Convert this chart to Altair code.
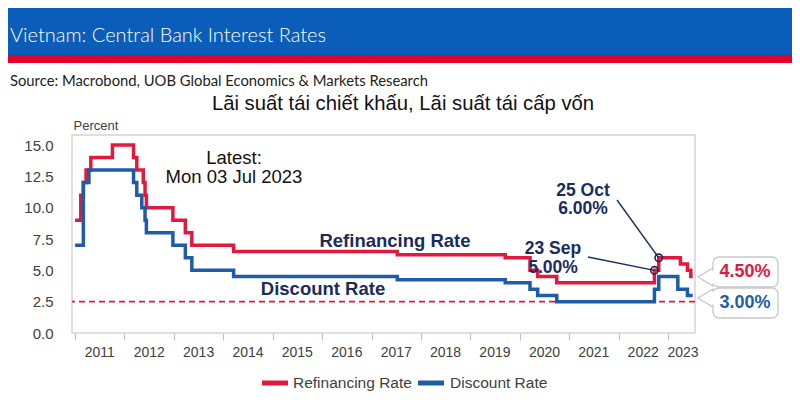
import altair as alt
import pandas as pd

# ---------------- data ----------------
refi_dates = ["2011-01-01", "2011-02-12", "2011-03-03", "2011-03-23", "2011-04-27",
              "2011-10-04", "2012-03-08", "2012-04-01", "2012-05-19", "2012-06-01",
              "2012-06-11", "2012-12-24", "2013-03-26", "2013-05-13", "2014-03-18",
              "2017-07-10", "2019-09-16", "2020-03-17", "2020-05-13", "2020-10-01",
              "2022-09-23", "2022-10-25", "2023-04-03", "2023-05-25", "2023-06-19",
              "2023-07-03"]
refi_values = [9.0, 11.0, 12.0, 13.0, 14.0,
               15.0, 14.0, 13.0, 12.0, 11.0,
               10.0, 9.0, 8.0, 7.0, 6.5,
               6.25, 6.0, 5.0, 4.5, 4.0,
               5.0, 6.0, 5.5, 5.0, 4.5,
               4.5]

disc_dates = ["2011-01-01", "2011-03-03", "2011-04-13", "2012-03-08", "2012-04-01",
              "2012-05-08", "2012-06-01", "2012-06-11", "2012-12-24", "2013-03-26",
              "2013-05-13", "2014-03-18", "2017-07-10", "2019-09-16", "2020-03-17",
              "2020-05-13", "2020-10-01", "2022-09-23", "2022-10-25", "2023-03-15",
              "2023-05-25", "2023-07-03"]
disc_values = [7.0, 12.0, 13.0, 12.0, 11.0,
               10.0, 9.0, 8.0, 7.0, 6.0,
               5.0, 4.5, 4.25, 4.0, 3.5,
               3.0, 2.5, 3.5, 4.5, 3.5,
               3.0, 3.0]

series_names = ["Refinancing Rate", "Discount Rate"]
years = list(range(2011, 2024))
year_label_dates = [f"{y}-07-02" for y in range(2011, 2023)] + ["2023-04-22"]
y_ticks = [0, 2.5, 5.0, 7.5, 10.0, 12.5, 15.0]
floor_rate = [2.5]
highlight_dates = ["2022-10-25", "2022-09-23"]
highlight_values = [6.0, 5.0]
highlight_labels = ["25 Oct", "23 Sep"]

# ---------------- styling ----------------
RED = "#e2193c"
BLUE = "#1f5ca8"
NAVY = "#1a2b5f"
HEAD_BLUE = "#0a5db8"
HEAD_RED = "#e4002b"
GRAY = "#404040"
FONT = "Liberation Sans"

W, H = 623, 198
PAD = {"left": 64, "top": 127, "right": 97, "bottom": 63}

lines_df = pd.concat([
    pd.DataFrame({"date": refi_dates, "rate": refi_values, "series": series_names[0]}),
    pd.DataFrame({"date": disc_dates, "rate": disc_values, "series": series_names[1]}),
], ignore_index=True)

x_scale = alt.Scale(type="utc", domain=[alt.DateTime(year=2010, month=12, date=9, utc=True),
                                         alt.DateTime(year=2023, month=7, date=20, utc=True)])
y_scale = alt.Scale(domain=[0, 15.8], nice=False, zero=True)

x_axis = alt.Axis(values=[alt.DateTime(year=y, month=1, date=1, utc=True) for y in years],
                  labels=False, ticks=True, tickSize=7, tickColor="#c4c4c4",
                  tickWidth=1.2, domain=False, grid=False, title=None)
y_axis = alt.Axis(values=y_ticks, format=".1f", title="Percent", titleAngle=0,
                  titleAlign="left", titleBaseline="alphabetic", titleX=1, titleY=-6,
                  titleFontSize=13, titleFontWeight="normal", titleColor=GRAY,
                  titleFont=FONT, labelFont=FONT, labelFontSize=15, labelColor=GRAY,
                  labelOverlap=False, ticks=False, labelPadding=19, domain=False,
                  grid=False)


def X():
    return alt.X("date:T", scale=x_scale, axis=x_axis)


def Y():
    return alt.Y("rate:Q", scale=y_scale, axis=y_axis)


one = pd.DataFrame({"a": [0]})


def txt(x, y, s, size=14, color="#111111", weight="normal", font=FONT, align="center"):
    return alt.Chart(one).mark_text(fontSize=size, color=color, fontWeight=weight, font=font,
                                    align=align, baseline="middle").encode(
        x=alt.value(x), y=alt.value(y), text=alt.value(s))


def box(y1, y2):
    return alt.Chart(one).mark_rect(fill="white", stroke="#c9c9c9", strokeWidth=1.3,
                                    cornerRadius=6).encode(
        x=alt.value(641), x2=alt.value(706), y=alt.value(y1), y2=alt.value(y2))


def pointer(yc, cover=False):
    if cover:
        return alt.Chart(one).mark_point(shape="M -0.8 0 L 1.35 -1.05 L 1.35 1.05 Z", filled=True,
                                         fill="white", opacity=1, strokeWidth=0, size=225).encode(
            x=alt.value(633.5), y=alt.value(yc))
    return alt.Chart(one).mark_point(shape="M -1 0 L 1 -1.2 L 1 1.2 Z", filled=True,
                                     fill="white", stroke="#c9c9c9", strokeWidth=1.3, opacity=1,
                                     size=225).encode(x=alt.value(633.5), y=alt.value(yc))


def swatch(x1, x2, y, color):
    return alt.Chart(one).mark_rule(color=color, strokeWidth=5).encode(
        x=alt.value(x1), x2=alt.value(x2), y=alt.value(y))


# header
head_blue = alt.Chart(one).mark_rect(color=HEAD_BLUE).encode(
    x=alt.value(-64), x2=alt.value(W + PAD["right"]), y=alt.value(-127), y2=alt.value(-80))
head_red = alt.Chart(one).mark_rect(color=HEAD_RED).encode(
    x=alt.value(-64), x2=alt.value(W + PAD["right"]), y=alt.value(-80), y2=alt.value(-72))
title_t = txt(-62, -99, "Vietnam: Central Bank Interest Rates", size=20, color="white",
              font="Lato", weight=300, align="left")
source_t = txt(-62, -53, "Source: Macrobond, UOB Global Economics & Markets Research", size=14.8,
               color="#222222", font="Lato", align="left")
sub_t = txt(331, -31, "Lãi suất tái chiết khấu, Lãi suất tái cấp vốn", size=20.3, color="#111111")

# floor dashed line
floor = alt.Chart(pd.DataFrame({"rate": floor_rate})).mark_rule(
    color=RED, strokeDash=[6, 4], strokeWidth=1.8).encode(y=Y())

lines = alt.Chart(lines_df).mark_line(interpolate="step-after", strokeWidth=3.5).encode(
    x=X(), y=Y(),
    color=alt.Color("series:N", scale=alt.Scale(domain=series_names, range=[RED, BLUE]),
                    legend=None),
    order=alt.Order("date:T"))

year_labels = alt.Chart(pd.DataFrame({"date": year_label_dates, "label": [str(y) for y in years]})).mark_text(
    font=FONT, fontSize=14, color=GRAY, baseline="middle").encode(
    x=X(), y=alt.value(H + 20), text="label:N")

hl_df = pd.DataFrame({"date": highlight_dates, "rate": highlight_values})
leader1 = alt.Chart(hl_df.iloc[[0]]).mark_rule(color=NAVY, strokeWidth=1.4).encode(
    x=X(), y=Y(), x2=alt.value(545), y2=alt.value(65))
leader2 = alt.Chart(hl_df.iloc[[1]]).mark_rule(color=NAVY, strokeWidth=1.4).encode(
    x=X(), y=Y(), x2=alt.value(516), y2=alt.value(122))
circles = alt.Chart(hl_df).mark_point(shape="circle", filled=False, size=55, stroke=NAVY,
                                      strokeWidth=1.6, opacity=1).encode(x=X(), y=Y())

ann = [
    txt(162, 23, "Latest:", size=18.5),
    txt(162, 42, "Mon 03 Jul 2023", size=18.5),
    txt(323, 106, "Refinancing Rate", size=18.5, color=NAVY, weight="bold"),
    txt(251, 154, "Discount Rate", size=18.5, color=NAVY, weight="bold"),
    txt(511, 56, highlight_labels[0], size=17.5, color=NAVY, weight="bold"),
    txt(511, 74, f"{highlight_values[0]:.2f}%", size=17.5, color=NAVY, weight="bold"),
    txt(481, 114, highlight_labels[1], size=17.5, color=NAVY, weight="bold"),
    txt(481, 133, f"{highlight_values[1]:.2f}%", size=17.5, color=NAVY, weight="bold"),
]

callouts = [
    pointer(142), box(122, 152), pointer(142, cover=True),
    pointer(163), box(153, 183), pointer(163, cover=True),
    txt(673, 137, f"{refi_values[-1]:.2f}%", size=18, color=RED, weight="bold"),
    txt(673, 168, f"{disc_values[-1]:.2f}%", size=18, color=BLUE, weight="bold"),
]

legend = [
    swatch(190, 216, 248, RED), txt(221, 248, series_names[0], size=15.5, color=GRAY, align="left"),
    swatch(346, 372, 248, BLUE), txt(378, 248, series_names[1], size=15.5, color=GRAY, align="left"),
]

chart = alt.layer(
    head_blue, head_red, title_t, source_t, sub_t,
    floor, lines, year_labels, leader1, leader2, circles, *ann, *callouts, *legend
).properties(
    width=W, height=H, padding=PAD, autosize=alt.AutoSizeParams(type="none"),
    background="white"
).configure_view(stroke="#d4d4d4", strokeWidth=1.5)

chart.save("out.html", embed_options={"renderer": "svg", "actions": False})
